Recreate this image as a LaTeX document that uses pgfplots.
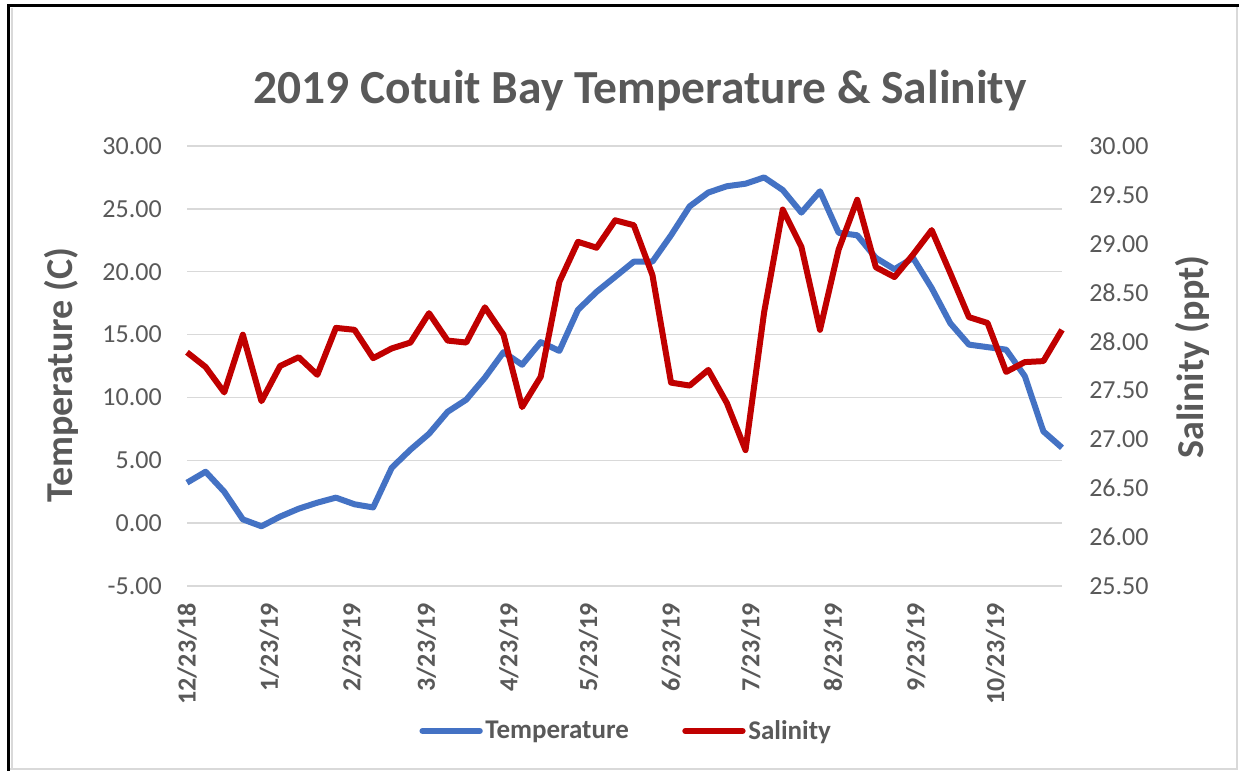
\documentclass[border=0pt]{standalone}
\usepackage{fontspec}
\setmainfont{Carlito}
\usepackage{pgfplots}
\pgfplotsset{compat=1.18}
\definecolor{txtgray}{HTML}{595959}
\definecolor{gridgray}{HTML}{D9D9D9}
\definecolor{tblue}{HTML}{4472C4}
\definecolor{sred}{HTML}{C00000}
\pgfplotstableread{
day temp
0 3.22
7 4.09
14 2.50
21 0.30
28 -0.25
35 0.52
42 1.15
49 1.63
56 2.03
63 1.50
70 1.25
77 4.41
84 5.84
91 7.11
98 8.86
105 9.82
112 11.57
119 13.60
126 12.60
133 14.40
140 13.70
147 16.97
154 18.40
161 19.60
168 20.80
175 20.80
182 22.90
189 25.20
196 26.30
203 26.80
210 27.00
217 27.50
224 26.50
231 24.70
238 26.40
245 23.10
252 22.90
259 21.10
266 20.20
273 21.10
280 18.70
287 15.90
294 14.20
301 14.00
308 13.80
315 11.70
322 7.30
329 6.00
}\temptable
\pgfplotstableread{
day sal
0 27.89
7 27.74
14 27.48
21 28.07
28 27.39
35 27.75
42 27.84
49 27.66
56 28.14
63 28.12
70 27.83
77 27.93
84 27.99
91 28.29
98 28.01
105 27.99
112 28.35
119 28.07
126 27.33
133 27.64
140 28.61
147 29.02
154 28.96
161 29.24
168 29.19
175 28.68
182 27.58
189 27.55
196 27.71
203 27.37
210 26.89
217 28.30
224 29.35
231 28.97
238 28.12
245 28.94
252 29.45
259 28.76
266 28.66
273 28.89
280 29.14
287 28.70
294 28.25
301 28.19
308 27.69
315 27.79
322 27.80
329 28.12
}\saltable
\begin{document}
\begin{tikzpicture}
\useasboundingbox (0,0) rectangle (929.25pt,-578.25pt);
\fill[white] (0,0) rectangle (929.25pt,-578.25pt);
\draw[line width=0.8pt, gridgray] (9pt,-6pt) -- (9pt,-576.75pt);
\draw[line width=1pt, gridgray] (927.75pt,-4pt) -- (927.75pt,-576.75pt) -- (6pt,-576.75pt);
\draw[line width=2.25pt, black] (6pt,-578.25pt) -- (6pt,-3.75pt) -- (929.25pt,-3.75pt);
\begin{axis}[
  at={(140.25pt,-439.5pt)}, anchor=south west,
  width=656.25pt, height=330pt, scale only axis,
  xmin=0, xmax=329, ymin=-5, ymax=30,
  ytick={-5,0,5,10,15,20,25,30},
  xtick={0,31,62,90,121,151,182,212,243,274,304},
  xticklabels={12/23/18,1/23/19,2/23/19,3/23/19,4/23/19,5/23/19,6/23/19,7/23/19,8/23/19,9/23/19,10/23/19},
  ymajorgrids, grid style={gridgray, line width=1.1pt},
  axis line style={draw=none},
  major tick length=0pt,
  clip=false,
  tick label style={inner sep=0pt, text=txtgray, font=\fontsize{19.5}{23}\selectfont},
  x tick label style={rotate=90, anchor=east, font=\fontsize{19.5}{23}\selectfont\bfseries},
  y tick label style={anchor=east, /pgf/number format/.cd, fixed, fixed zerofill, precision=2, assume math mode=true, /tikz/.cd},
  xticklabel shift=12.75pt,
  yticklabel shift=18.75pt,
  legend columns=2,
  legend style={at={(0.5023,-0.3295)}, anchor=center, draw=none, fill=none,
    font=\fontsize{20.25}{24}\selectfont\bfseries, text=txtgray,
    /tikz/every even column/.append style={column sep=38pt}},
  legend image code/.code={\draw[#1, line cap=round] (0pt,0pt) -- (43pt,0pt);},
]
\addplot[tblue, line width=4.5pt, line join=round] table[x=day, y=temp] {\temptable};
\addlegendentry{Temperature}
\addlegendimage{sred, line width=4.5pt}
\addlegendentry{Salinity}
\end{axis}
\begin{axis}[
  at={(140.25pt,-439.5pt)}, anchor=south west,
  width=656.25pt, height=330pt, scale only axis,
  xmin=0, xmax=329, ymin=25.5, ymax=30,
  ytick={25.5,26,26.5,27,27.5,28,28.5,29,29.5,30},
  axis y line*=right, axis x line=none,
  axis line style={draw=none},
  major tick length=0pt,
  clip=false,
  tick label style={inner sep=0pt, text=txtgray, font=\fontsize{19.5}{23}\selectfont},
  y tick label style={anchor=west, /pgf/number format/.cd, fixed, fixed zerofill, precision=2, assume math mode=true, /tikz/.cd},
  yticklabel shift=20.25pt,
]
\addplot[sred, line width=4.5pt, line join=round] table[x=day, y=sal] {\saltable};
\end{axis}
\node[anchor=base, text=txtgray, font=\fontsize{35.6}{42}\selectfont\bfseries] at (480pt,-77.25pt) {2019 Cotuit Bay Temperature \& Salinity};
\node[rotate=90, text=txtgray, font=\fontsize{28.5}{34}\selectfont\bfseries] at (45.75pt,-281.25pt) {Temperature (C)};
\node[rotate=90, text=txtgray, font=\fontsize{28.5}{34}\selectfont\bfseries] at (894pt,-267.75pt) {Salinity (ppt)};
\end{tikzpicture}
\end{document}
